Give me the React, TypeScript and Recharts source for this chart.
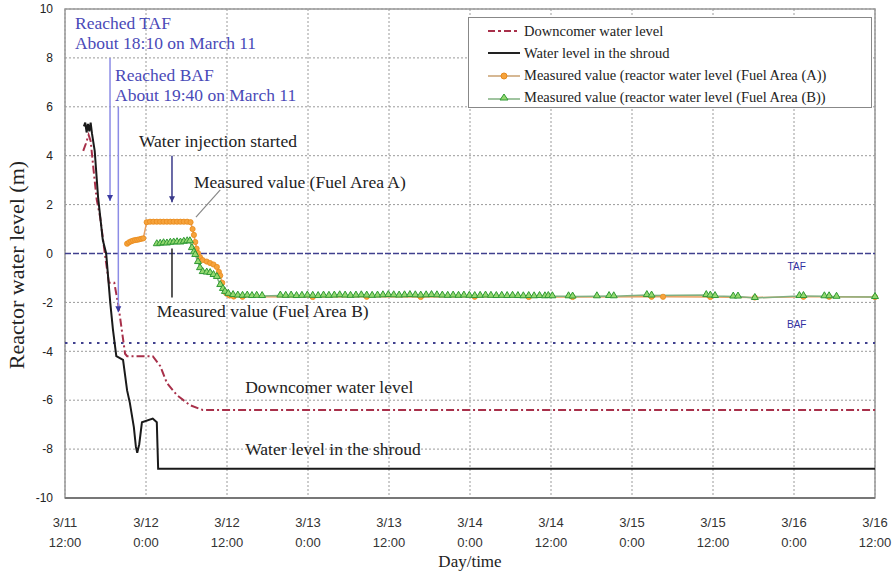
import React from "react";
import {
  LineChart,
  Line,
  XAxis,
  YAxis,
  CartesianGrid,
  ReferenceLine,
  ReferenceArea,
  ReferenceDot,
  Legend
} from "recharts";

// hours after 3/11 12:00
const xTicks = [0, 12, 24, 36, 48, 60, 72, 84, 96, 108, 120];
const xTickDays = ["3/11", "3/12", "3/12", "3/13", "3/13", "3/14", "3/14", "3/15", "3/15", "3/16", "3/16"];
const xTickTimes = ["12:00", "0:00", "12:00", "0:00", "12:00", "0:00", "12:00", "0:00", "12:00", "0:00", "12:00"];
const yTicks = [-10, -8, -6, -4, -2, 0, 2, 4, 6, 8, 10];

const TAF = 0;
const BAF = -3.66;

const downcomerT = [2.7, 3.1, 3.5, 3.8, 4.2, 4.7, 5.2, 5.9, 6.5, 7.3, 7.9, 8.4, 8.9, 9.2, 13.0, 14.1, 15.1, 16.6, 18.5, 20.4, 120];
const downcomerV = [4.2, 4.5, 4.85, 4.6, 3.5, 2.2, 1.5, 0, -1.2, -1.2, -2.1, -3.1, -4.1, -4.2, -4.2, -4.6, -5.3, -5.8, -6.2, -6.4, -6.4];

const shroudT = [2.8, 3.0, 3.2, 3.4, 3.6, 3.8, 4.0, 4.4, 4.9, 5.6, 6.1, 6.7, 7.1, 7.6, 8.6, 9.2, 9.6, 10.2, 10.5, 10.7, 11.0, 11.4, 13.0, 13.6, 13.8, 120];
const shroudV = [5.2, 5.35, 4.95, 5.3, 5.0, 5.35, 4.9, 4.2, 2.3, 0.55, 0, -2.0, -3.1, -4.2, -4.35, -5.6, -6.1, -7.1, -7.9, -8.15, -7.8, -6.9, -6.75, -6.9, -8.8, -8.8];

const fuelAT = [
  9.2, 9.5, 9.8, 10.1, 10.4, 10.7, 11.0, 11.3, 11.6,
  12.1, 12.6, 13.1, 13.6, 14.1, 14.6, 15.1, 15.6, 16.1, 16.6, 17.1, 17.6, 18.1, 18.6,
  18.9, 19.1, 19.3, 19.5, 19.7, 20.0, 20.4, 21.0, 21.5, 22.0, 22.5, 22.8, 23.0, 23.3, 23.7, 24.0, 24.4, 25.0,
  26.3, 36.7, 44.7, 52.7, 60.7, 68.7, 75.2, 86.9, 88.6, 95.6, 102.2, 109.4, 113.2, 120
];
const fuelAV = [
  0.40, 0.46, 0.50, 0.53, 0.55, 0.56, 0.58, 0.60, 0.62,
  1.28, 1.30, 1.30, 1.30, 1.30, 1.30, 1.30, 1.30, 1.30, 1.30, 1.30, 1.30, 1.30, 1.28,
  1.00, 0.76, 0.47, 0.20, 0.02, -0.15, -0.27, -0.33, -0.39, -0.45, -0.55, -0.75, -0.90, -1.20, -1.57, -1.65, -1.72, -1.76,
  -1.77, -1.78, -1.77, -1.78, -1.77, -1.78, -1.78, -1.77, -1.77, -1.78, -1.80, -1.77, -1.77, -1.78
];

const fuelBT = [
  13.6, 14.1, 14.6, 15.1, 15.6, 16.1, 16.6, 17.1, 17.6, 18.1, 18.5,
  18.8, 19.1, 19.3, 19.7, 20.0, 20.4, 21.0, 21.5, 22.0, 22.5, 23.0, 23.4, 23.7, 24.2, 24.9, 25.6, 26.3, 27.0, 27.7, 28.4, 29.2,
  31.9, 32.7, 33.5, 34.3, 35.1, 35.9, 36.7, 37.5, 38.3, 39.1, 39.9, 40.7, 41.5, 42.3, 43.1, 43.9, 44.7, 45.5, 46.3, 47.1,
  47.9, 48.7, 49.5, 50.3, 51.1, 51.9, 52.7, 53.5, 54.3, 55.1, 55.9, 56.7, 57.5, 58.3, 59.1, 59.9, 60.7, 61.5, 62.3, 63.1,
  63.9, 64.7, 65.5, 66.3, 67.1, 67.9, 68.7, 69.5, 70.3, 71.1,
  71.6, 72.2, 74.6, 75.2, 78.8, 80.6, 81.3, 86.2, 86.9, 95.0, 95.6, 96.3, 99.0, 99.7, 102.2, 108.8, 109.4, 112.5, 113.2, 114.3, 120
];
const fuelBV = [
  0.38, 0.40, 0.42, 0.41, 0.44, 0.45, 0.46, 0.45, 0.48, 0.50, 0.50,
  0.22, 0.05, -0.06, -0.35, -0.60, -0.76, -0.78, -0.80, -0.88, -0.96, -1.29, -1.45, -1.57, -1.65, -1.70, -1.72, -1.73, -1.72, -1.74, -1.73, -1.74,
  -1.72, -1.73, -1.72, -1.74, -1.73, -1.72, -1.73, -1.74, -1.72, -1.73, -1.72, -1.71, -1.72, -1.73, -1.72, -1.71, -1.72, -1.73, -1.72, -1.71,
  -1.70, -1.71, -1.72, -1.71, -1.70, -1.71, -1.72, -1.71, -1.70, -1.71, -1.72, -1.73, -1.72, -1.73, -1.72, -1.73, -1.74, -1.73, -1.72, -1.73,
  -1.74, -1.73, -1.74, -1.73, -1.74, -1.75, -1.74, -1.75, -1.74, -1.75,
  -1.74, -1.75, -1.75, -1.76, -1.75, -1.74, -1.75, -1.70, -1.72, -1.70, -1.72, -1.74, -1.76, -1.76, -1.82, -1.74, -1.74, -1.75, -1.75, -1.77, -1.78
];

const zip = (ts: number[], vs: number[]) => ts.map((t, i) => ({ t, v: vs[i] }));
const downcomer = zip(downcomerT, downcomerV);
const shroud = zip(shroudT, shroudV);
const fuelA = zip(fuelAT, fuelAV);
const fuelB = zip(fuelBT, fuelBV);

const SERIF = "'Liberation Serif', 'DejaVu Serif', serif";
const SANS = "'Liberation Sans', Arial, sans-serif";

// annotation texts, in data coordinates (left / baseline)
const notes = [
  { t: 1.48, v: 9.18, text: "Reached TAF", color: "#4a4ab8" },
  { t: 1.48, v: 8.38, text: "About 18:10 on March 11", color: "#4a4ab8" },
  { t: 7.41, v: 7.05, text: "Reached BAF", color: "#4a4ab8" },
  { t: 7.41, v: 6.25, text: "About 19:40 on March 11", color: "#4a4ab8" },
  { t: 10.96, v: 4.36, text: "Water injection started", color: "#222" },
  { t: 19.1, v: 2.68, text: "Measured value (Fuel Area A)", color: "#222" },
  { t: 13.6, v: -2.6, text: "Measured value (Fuel Area B)", color: "#222" },
  { t: 26.7, v: -5.7, text: "Downcomer water level", color: "#222" },
  { t: 26.7, v: -8.24, text: "Water level in the shroud", color: "#222" }
];

const arrows = [
  { t: 6.67, from: 8, to: 2.15, line: "#8c8ce6", head: "#3a3aa0" },
  { t: 7.9, from: 6, to: -2.4, line: "#8c8ce6", head: "#3a3aa0" },
  { t: 15.85, from: 4, to: 2.1, line: "#3a3a8a", head: "#3a3a8a" }
];

const legendItems = [
  { label: "Downcomer water level", kind: "down" },
  { label: "Water level in the shroud", kind: "shroud" },
  { label: "Measured value (reactor water level (Fuel Area (A))", kind: "a" },
  { label: "Measured value (reactor water level (Fuel Area (B))", kind: "b" }
];

const circleDot = (p: any) => (
  <circle key={`a${p.index}`} cx={p.cx} cy={p.cy} r={2.6} fill="#f6a33c" stroke="#e88a1c" strokeWidth={0.8} />
);

const triDot = (p: any) => (
  <path
    key={`b${p.index}`}
    d={`M${p.cx},${p.cy - 4.5}L${p.cx + 3.5},${p.cy + 1.5}L${p.cx - 3.5},${p.cy + 1.5}Z`}
    fill="#94d870"
    stroke="#2f9a35"
    strokeWidth={1}
  />
);

const XTick = (props: any) => {
  const { x, y, index } = props;
  return (
    <text x={x} y={y} textAnchor="middle" fontFamily={SANS} fontSize={13} fill="#333">
      <tspan x={x} dy={21}>{xTickDays[index]}</tspan>
      <tspan x={x} dy={20}>{xTickTimes[index]}</tspan>
    </text>
  );
};

function LegendSample({ kind }: { kind: string }) {
  return (
    <svg width={34} height={12} style={{ marginRight: 3, flex: "none" }}>
      {kind === "down" && <line x1={1} y1={6} x2={33} y2={6} stroke="#a8304a" strokeWidth={2} strokeDasharray="7 3 3 3" />}
      {kind === "shroud" && <line x1={1} y1={6} x2={33} y2={6} stroke="#222" strokeWidth={2} />}
      {kind === "a" && (
        <>
          <line x1={1} y1={7} x2={33} y2={7} stroke="#c8a070" strokeWidth={1.5} />
          <circle cx={17} cy={7} r={3} fill="#f6a33c" stroke="#e88a1c" />
        </>
      )}
      {kind === "b" && (
        <>
          <line x1={1} y1={8} x2={33} y2={8} stroke="#80b080" strokeWidth={1.5} />
          <path d="M17,3L21,9L13,9Z" fill="#94d870" stroke="#2f9a35" />
        </>
      )}
    </svg>
  );
}

const renderLegend = () => (
  <div
    style={{
      border: "1.5px solid #888",
      background: "#fff",
      padding: "2px 0 3px 18px",
      boxSizing: "border-box",
      width: 404,
      height: 91
    }}
  >
    {legendItems.map((it) => (
      <div key={it.kind} style={{ display: "flex", alignItems: "center", height: 22 }}>
        <LegendSample kind={it.kind} />
        <span style={{ fontFamily: SERIF, fontSize: 14.5, color: "#222", whiteSpace: "nowrap" }}>{it.label}</span>
      </div>
    ))}
  </div>
);

export default function App() {
  return (
    <div style={{ position: "absolute", left: 0, top: 0, width: 893, height: 573, background: "#fff" }}>
      <LineChart width={893} height={573} margin={{ top: 9, right: 18, left: 0, bottom: 0 }}>
        <CartesianGrid stroke="#9a9a9a" strokeDasharray="2 2" />
        <XAxis
          type="number"
          dataKey="t"
          domain={[0, 120]}
          ticks={xTicks}
          interval={0}
          height={75}
          axisLine={{ stroke: "#777", strokeWidth: 2 }}
          tickLine={false}
          tick={<XTick />}
          label={{ value: "Day/time", position: "insideBottom", offset: 6, fontFamily: SERIF, fontSize: 17, fill: "#222" }}
        />
        <YAxis
          type="number"
          dataKey="v"
          domain={[-10, 10]}
          ticks={yTicks}
          interval={0}
          width={65}
          axisLine={false}
          tickLine={false}
          tickMargin={6}
          tick={{ fontFamily: SANS, fontSize: 12, fill: "#222" }}
          label={{
            content: () => (
              <text
                x={24}
                y={265}
                transform="rotate(-90 24 265)"
                textAnchor="middle"
                fontFamily={SERIF}
                fontSize={22}
                fill="#222"
              >
                Reactor water level (m)
              </text>
            )
          }}
        />
        <ReferenceArea x1={0} x2={120} y1={-10} y2={10} fill="none" stroke="#999" strokeWidth={1.5} />
        <ReferenceLine y={TAF} stroke="#40408e" strokeWidth={1.6} strokeDasharray="6 2" />
        <ReferenceLine y={BAF} stroke="#40408e" strokeWidth={2} strokeDasharray="2.5 5.5" />

        <Line data={downcomer} dataKey="v" type="linear" stroke="#a8304a" strokeWidth={2} strokeDasharray="8 3 2 3" dot={false} isAnimationActive={false} />
        <Line data={shroud} dataKey="v" type="linear" stroke="#1a1a1a" strokeWidth={2} dot={false} isAnimationActive={false} />
        <Line data={fuelA} dataKey="v" type="linear" stroke="#e8a060" strokeWidth={1.5} dot={circleDot} isAnimationActive={false} />
        <Line data={fuelB} dataKey="v" type="linear" stroke="#80b080" strokeWidth={1.5} dot={triDot} isAnimationActive={false} />

        {arrows.map((a, i) => (
          <ReferenceLine
            key={`ar${i}`}
            segment={[{ x: a.t, y: a.from }, { x: a.t, y: a.to }]}
            stroke={a.line}
            strokeWidth={1.5}
          />
        ))}
        {arrows.map((a, i) => (
          <ReferenceDot
            key={`ah${i}`}
            x={a.t}
            y={a.to}
            shape={(p: any) => (
              <path d={`M${p.cx - 3},${p.cy - 6}L${p.cx + 3},${p.cy - 6}L${p.cx},${p.cy}Z`} fill={a.head} />
            )}
          />
        ))}
        <ReferenceLine segment={[{ x: 19.4, y: 1.49 }, { x: 23.0, y: 2.6 }]} stroke="#888" strokeWidth={1.2} />
        <ReferenceLine segment={[{ x: 15.85, y: 0.2 }, { x: 15.85, y: -1.8 }]} stroke="#222" strokeWidth={1.5} />

        {notes.map((n, i) => (
          <ReferenceDot
            key={`n${i}`}
            x={n.t}
            y={n.v}
            shape={(p: any) => (
              <text x={p.cx} y={p.cy} fontFamily={SERIF} fontSize={17.5} fill={n.color}>
                {n.text}
              </text>
            )}
          />
        ))}
        <ReferenceDot
          x={108.4}
          y={-0.67}
          shape={(p: any) => (
            <text x={p.cx} y={p.cy} textAnchor="middle" fontFamily={SANS} fontSize={10} fill="#3030a0">TAF</text>
          )}
        />
        <ReferenceDot
          x={108.4}
          y={-3.05}
          shape={(p: any) => (
            <text x={p.cx} y={p.cy} textAnchor="middle" fontFamily={SANS} fontSize={10} fill="#3030a0">BAF</text>
          )}
        />

        <Legend
          layout="horizontal"
          verticalAlign="middle"
          align="center"
          content={renderLegend}
          wrapperStyle={{ left: 468, top: 17, width: 404, height: 91 }}
        />
      </LineChart>
    </div>
  );
}
